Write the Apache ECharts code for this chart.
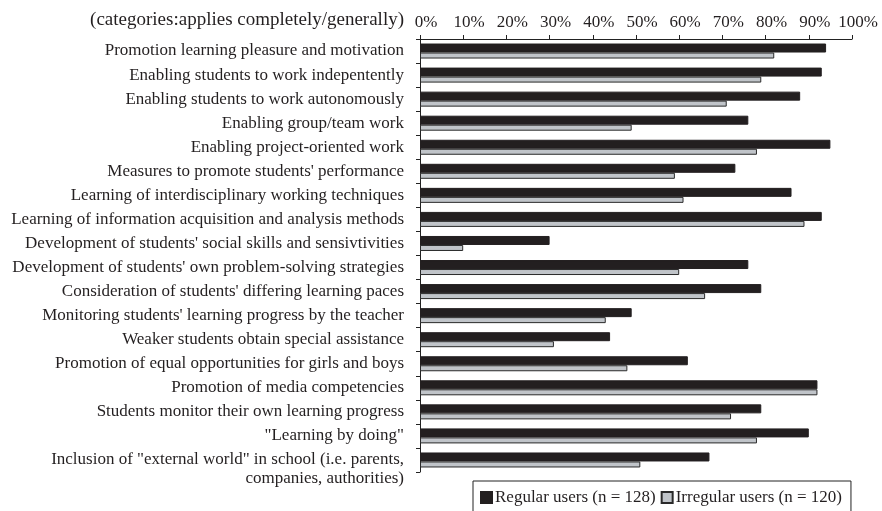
<!DOCTYPE html>
<html>
<head>
<meta charset="utf-8">
<script src="https://cdn.jsdelivr.net/npm/echarts@6/dist/echarts.min.js"></script>
<style>html,body{margin:0;padding:0;background:#fff;}#c{width:882px;height:511px;}</style>
</head>
<body>
<div id="c"></div>
<script>
var categories = [
  "Promotion learning pleasure and motivation",
  "Enabling students to work indepentently",
  "Enabling students to work autonomously",
  "Enabling group/team work",
  "Enabling project-oriented work",
  "Measures to promote students' performance",
  "Learning of interdisciplinary working techniques",
  "Learning of information acquisition and analysis methods",
  "Development of students' social skills and sensivtivities",
  "Development of students' own problem-solving strategies",
  "Consideration of students' differing learning paces",
  "Monitoring students' learning progress by the teacher",
  "Weaker students obtain special assistance",
  "Promotion of equal opportunities for girls and boys",
  "Promotion of media competencies",
  "Students monitor their own learning progress",
  "\"Learning by doing\"",
  "\nInclusion of \"external world\" in school (i.e. parents,\ncompanies, authorities)"
];
var regularUsers = [94, 93, 88, 76, 95, 73, 86, 93, 30, 76, 79, 49, 44, 62, 92, 79, 90, 67];
var irregularUsers = [82, 79, 71, 49, 78, 59, 61, 89, 10, 60, 66, 43, 31, 48, 92, 72, 78, 51];
var seriesNames = ["Regular users (n = 128)", "Irregular users (n = 120)"];
var axisTitle = "(categories:applies completely/generally)";

var FONT = "Liberation Serif";
var TXT = "#231f20";
var chart = echarts.init(document.getElementById('c'));
chart.setOption({
  animation: false,
  backgroundColor: '#fff',
  textStyle: { fontFamily: FONT, color: TXT },
  graphic: [{
    type: 'text', right: 478, top: 11,
    style: { text: axisTitle, font: '19px "Liberation Serif"', fill: TXT }
  }],
  legend: {
    left: 473, top: 481,
    data: seriesNames,
    itemWidth: 11, itemHeight: 11, itemGap: 5,
    padding: [8, 9, 20, 7],
    borderColor: '#222', borderWidth: 1,
    icon: 'rect',
    textStyle: { fontFamily: FONT, fontSize: 17, color: TXT, padding: [0, 0, 0, -2] }
  },
  grid: { left: 420, right: 30, top: 39, bottom: 39, containLabel: false },
  xAxis: {
    type: 'value', position: 'top', min: 0, max: 100, interval: 10,
    axisLine: { show: true, lineStyle: { color: '#222', width: 1 } },
    axisTick: { show: true, length: 4, lineStyle: { color: '#222' } },
    splitLine: { show: false },
    axisLabel: { formatter: '{value}%', fontFamily: FONT, fontSize: 17, color: TXT, margin: 8, padding: [0, 0, 0, 12] }
  },
  yAxis: {
    type: 'category', inverse: true, data: categories,
    axisLine: { show: true, lineStyle: { color: '#222', width: 1 } },
    axisTick: { show: true, length: 4, lineStyle: { color: '#222' } },
    axisLabel: { fontFamily: FONT, fontSize: 17, color: TXT, margin: 16, lineHeight: 19, interval: 0 }
  },
  series: [
    {
      name: seriesNames[0], type: 'bar', data: regularUsers,
      barWidth: 9, barGap: '0%',
      itemStyle: { color: '#231f20', borderColor: '#231f20', borderWidth: 1 }
    },
    {
      name: seriesNames[1], type: 'bar', data: irregularUsers,
      barWidth: 6, barGap: '0%',
      itemStyle: { color: '#c0c4c9', borderColor: '#2a2a2a', borderWidth: 1 }
    }
  ]
});
</script>
</body>
</html>
